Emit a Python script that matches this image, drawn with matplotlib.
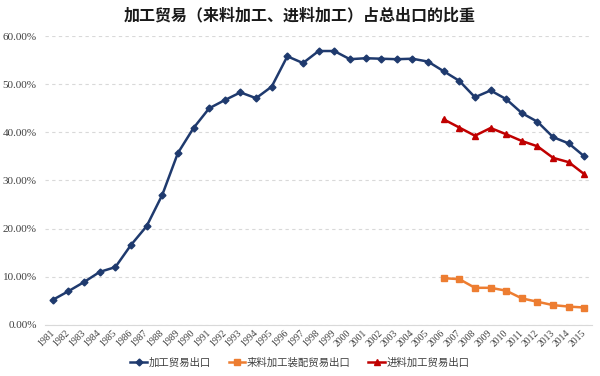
import matplotlib
matplotlib.use('Agg')
from matplotlib import pyplot as plt

plt.rcParams['font.family'] = ['Noto Sans CJK SC', 'DejaVu Sans']

years = [str(y) for y in range(1981, 2016)]
processing = [5.2, 7.0, 8.9, 11.0, 12.0, 16.6, 20.5, 27.0, 35.7, 40.9,
              45.0, 46.7, 48.3, 47.1, 49.5, 55.8, 54.4, 56.9, 56.9, 55.2,
              55.4, 55.3, 55.2, 55.3, 54.7, 52.7, 50.7, 47.3, 48.7, 46.9,
              44.0, 42.2, 39.0, 37.7, 35.0]
assembly = [9.7, 9.5, 7.7, 7.7, 7.1, 5.5, 4.8, 4.1, 3.8, 3.6]
imported = [42.7, 41.0, 39.3, 40.9, 39.6, 38.2, 37.1, 34.7, 33.8, 31.3]

fig = plt.figure(figsize=(6, 3.76), dpi=100)
ax = fig.add_axes([0.075, 0.136, 0.912, 0.768])

x_all = list(range(len(years)))
x_sub = x_all[25:]

ax.plot(x_all, processing, color='#1F3A6E', lw=1.8, marker='D', ms=3.5, label='加工贸易出口')
ax.plot(x_sub, assembly, color='#ED7D31', lw=1.8, marker='s', ms=4.5, label='来料加工装配贸易出口')
ax.plot(x_sub, imported, color='#C00000', lw=1.8, marker='^', ms=5, label='进料加工贸易出口')

ax.set_xlim(-0.5, len(years) - 0.5)
ax.set_ylim(0, 60)
ax.set_yticks([0, 10, 20, 30, 40, 50, 60])
ax.set_yticklabels(['%.2f%%' % v for v in [0, 10, 20, 30, 40, 50, 60]],
                   family='Liberation Serif', fontsize=8)
ax.set_xticks(x_all)
ax.set_xticklabels(years, rotation=45, family='Liberation Serif', fontsize=7,
                   ha='right', va='center', rotation_mode='anchor')

ax.grid(axis='y', color='#D9D9D9', ls=(0, (3, 3)), lw=0.8)
ax.set_axisbelow(True)
for s in ['top', 'right', 'left']:
    ax.spines[s].set_visible(False)
ax.spines['bottom'].set_color('#D9D9D9')
ax.tick_params(axis='both', length=0, colors='#404040')
ax.tick_params(axis='y', pad=6)
ax.tick_params(axis='x', pad=5)

fig.text(0.5, 1 - 15 / 376, '加工贸易（来料加工、进料加工）占总出口的比重',
         ha='center', va='center', fontsize=11.5, fontweight='bold', color='#1a1a1a')
fig.legend(loc='center', ncol=3, frameon=False, fontsize=7.5,
           bbox_to_anchor=(0.5, 1 - 363 / 376), handlelength=1.6,
           handletextpad=0.15, columnspacing=1.7, labelcolor='#404040')

fig.savefig('out.png', dpi=100)
